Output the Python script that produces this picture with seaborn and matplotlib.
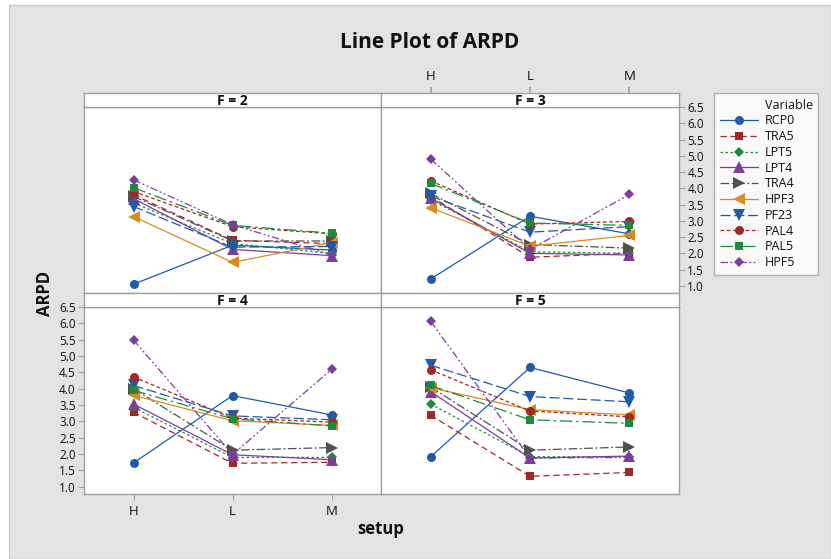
import numpy as np
import pandas as pd
import matplotlib
matplotlib.use("Agg")
import matplotlib.pyplot as plt
import seaborn as sns
from matplotlib.lines import Line2D
from matplotlib.patches import Rectangle

sns.set_theme(style="white")
plt.rcParams["font.family"] = ["Open Sans", "DejaVu Sans"]

# ---------------- data ----------------
setups = ["H", "L", "M"]
variables = ["RCP0", "TRA5", "LPT5", "LPT4", "TRA4", "HPF3", "PF23", "PAL4", "PAL5", "HPF5"]
f_levels = [2, 3, 4, 5]

# rows follow `variables`, columns follow `setups`
arpd_f2 = [
    [1.05, 2.25, 2.10],
    [3.80, 2.40, 2.30],
    [3.55, 2.30, 2.00],
    [3.68, 2.12, 1.93],
    [3.75, 2.38, 2.38],
    [3.13, 1.72, 2.33],
    [3.44, 2.19, 2.21],
    [3.90, 2.82, 2.60],
    [4.02, 2.86, 2.62],
    [4.26, 2.88, 1.95],
]
arpd_f3 = [
    [1.21, 3.14, 2.60],
    [3.75, 1.88, 2.00],
    [3.65, 2.05, 2.00],
    [3.70, 2.00, 1.95],
    [3.84, 2.27, 2.16],
    [3.40, 2.22, 2.55],
    [3.76, 2.65, 2.82],
    [4.23, 2.90, 2.98],
    [4.15, 2.93, 2.86],
    [4.90, 2.12, 3.81],
]
arpd_f4 = [
    [1.73, 3.79, 3.20],
    [3.28, 1.72, 1.75],
    [3.43, 1.90, 1.90],
    [3.53, 1.98, 1.83],
    [4.00, 2.12, 2.20],
    [3.80, 3.02, 2.88],
    [4.10, 3.17, 3.05],
    [4.36, 3.10, 2.98],
    [3.95, 3.08, 2.86],
    [5.49, 1.99, 4.59],
]
arpd_f5 = [
    [1.92, 4.65, 3.87],
    [3.19, 1.32, 1.44],
    [3.53, 1.92, 1.92],
    [3.91, 1.88, 1.94],
    [4.05, 2.12, 2.22],
    [4.03, 3.36, 3.20],
    [4.72, 3.76, 3.60],
    [4.58, 3.32, 3.14],
    [4.10, 3.05, 2.94],
    [6.06, 1.88, 1.90],
]
y_ticks = [1.0, 1.5, 2.0, 2.5, 3.0, 3.5, 4.0, 4.5, 5.0, 5.5, 6.0, 6.5]

rows = []
for f, arr in zip(f_levels, [arpd_f2, arpd_f3, arpd_f4, arpd_f5]):
    for v, vals in zip(variables, arr):
        for s, y in zip(setups, vals):
            rows.append({"F": f, "Variable": v, "setup": s, "ARPD": y})
df = pd.DataFrame(rows)

# ---------------- styles ----------------
BLUE, RED, GREEN, PURPLE, GRAY, ORANGE = "#1f5ba8", "#a02828", "#1e8a3e", "#7e3d9c", "#505050", "#d98b1e"
palette = dict(zip(variables, [BLUE, RED, GREEN, PURPLE, GRAY, ORANGE, BLUE, RED, GREEN, PURPLE]))
markers = dict(zip(variables, ["o", "s", "D", "^", ">", "<", "v", "o", "s", "D"]))
dashes = dict(zip(variables, [
    "", (5, 3), (2, 2), "", (7, 2, 1.5, 2), "", (8, 3), (3, 2), (10, 3, 2, 3), (6, 2, 1.5, 2, 1.5, 2)
]))
msize = {"o": 6.5, "s": 6.0, "D": 5.5, "^": 9, ">": 9, "<": 9, "v": 9}

W, H = 831, 559
fig = plt.figure(figsize=(W / 100, H / 100), dpi=100)
fig.patch.set_facecolor("white")
fig.add_artist(Rectangle((9 / W, 0), 1 - 9 / W, (H - 5) / H, transform=fig.transFigure,
                         facecolor="#e3e3e3", edgecolor="#cccccc", lw=1, zorder=0))


def fbox(x0, y0, x1, y1):
    return [x0 / W, 1 - y1 / H, (x1 - x0) / W, (y1 - y0) / H]


panels = {2: (84, 381, 107, 293), 3: (381, 679, 107, 293),
          4: (84, 381, 307, 494), 5: (381, 679, 307, 494)}
EDGE = "#a0a0a0"
TXT = "#111111"
LW = 0.9

for f in f_levels:
    x0, x1, yt, yb = panels[f]
    ax = fig.add_axes(fbox(x0, yt, x1, yb))
    ax.set_facecolor("white")
    sns.lineplot(data=df[df.F == f], x="setup", y="ARPD", hue="Variable", style="Variable",
                 hue_order=variables, style_order=variables, palette=palette,
                 markers=markers, dashes=dashes, legend=False, ax=ax, lw=LW,
                 markeredgewidth=0, sort=False)
    for ln in ax.lines:
        ln.set_markersize(msize.get(ln.get_marker(), 6))
    ax.set_xlim(-0.5, 2.5)
    ax.set_ylim(0.78, 6.5)
    ax.set_xlabel("")
    ax.set_ylabel("")
    for sp in ax.spines.values():
        sp.set_color(EDGE)
        sp.set_linewidth(1)
    ax.set_yticks(y_ticks)
    ax.set_yticklabels([f"{t:.1f}" for t in y_ticks])
    ax.tick_params(labelcolor=TXT, labelsize=8.5, length=4, width=0.8, pad=2, color=EDGE)
    if f == 4:
        ax.tick_params(axis="y", left=True, labelleft=True, right=False, labelright=False)
        ax.tick_params(axis="x", bottom=True, labelbottom=True, labelsize=9.5, pad=4)
    elif f == 3:
        ax.tick_params(axis="y", left=False, labelleft=False, right=True, labelright=True)
        ax.tick_params(axis="x", bottom=False, labelbottom=False)
    else:
        ax.tick_params(axis="y", left=False, labelleft=False)
        ax.tick_params(axis="x", bottom=False, labelbottom=False)

    # strip
    sax = fig.add_axes(fbox(x0, yt - 14, x1, yt))
    sax.set_facecolor("white")
    sax.set_xlim(-0.5, 2.5)
    sax.set_yticks([])
    for sp in sax.spines.values():
        sp.set_color(EDGE)
        sp.set_linewidth(1)
    sax.text(0.5, 0.45, f"F = {f}", transform=sax.transAxes, ha="center", va="center",
             fontsize=10, weight="bold", color=TXT)
    if f == 3:
        sax.set_xticks(range(len(setups)))
        sax.set_xticklabels(setups)
        sax.tick_params(axis="x", top=True, labeltop=True, bottom=False, labelbottom=False,
                        length=4, color=EDGE, labelsize=9.5, labelcolor=TXT, pad=3)
    else:
        sax.set_xticks([])

fig.text(430 / W, 1 - 42 / H, "Line Plot of ARPD", ha="center", va="center",
         fontsize=15, weight="bold", color="#111111")
fig.text(45 / W, 1 - 293 / H, "ARPD", ha="center", va="center", rotation=90,
         fontsize=12, weight="bold", color="#111111")
fig.text(381 / W, 1 - 529 / H, "setup", ha="center", va="center",
         fontsize=12, weight="bold", color="#111111")

handles = [Line2D([], [], linestyle="none")]
labels = ["Variable"]
for v in variables:
    d = dashes[v]
    h = Line2D([0, 1], [0, 0], color=palette[v], lw=LW, marker=markers[v],
               markersize=msize[markers[v]], markeredgewidth=0)
    if d:
        h.set_dashes(d)
    handles.append(h)
    labels.append(v)
leg = fig.legend(handles, labels, loc="upper left", bbox_to_anchor=(714 / W, 1 - 93 / H),
                 frameon=True, fancybox=False, edgecolor=EDGE, fontsize=9, handlelength=3.1,
                 borderaxespad=0, labelspacing=0.22, handletextpad=0.5, borderpad=0.45)
leg.get_frame().set_linewidth(1)
for t in leg.get_texts():
    t.set_color(TXT)

fig.savefig("out.png", dpi=100)
